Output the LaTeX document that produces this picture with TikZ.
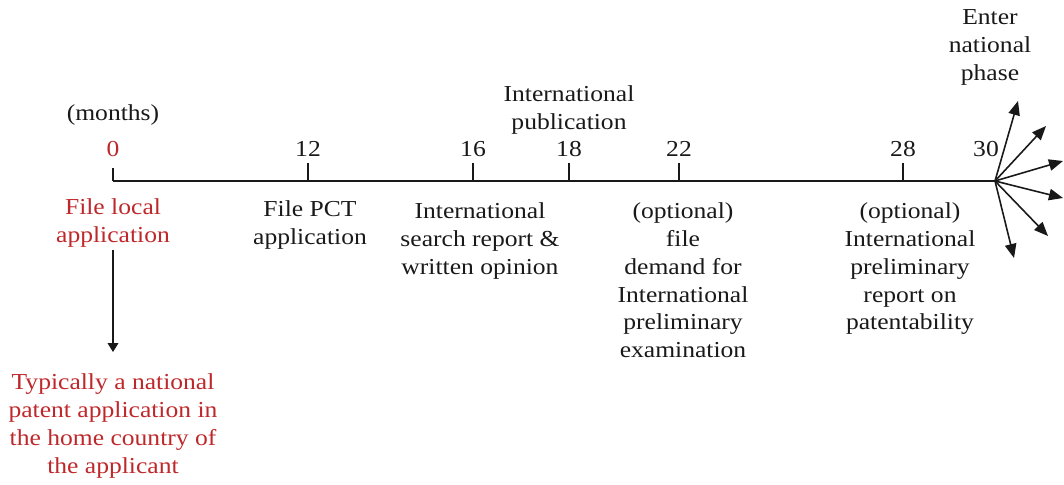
\documentclass[tikz,border=0pt]{standalone}
\usepackage{fontspec}
\setmainfont{Liberation Serif}[FakeStretch=1.12]
\usepackage{xcolor}
\usepackage{tikz}
\usetikzlibrary{arrows.meta, positioning}
\definecolor{pctred}{RGB}{190, 40, 42}
\definecolor{pctdark}{RGB}{25, 25, 25}

\begin{document}
\begin{tikzpicture}[
    x=0.02cm, y=-0.02cm,
    every node/.style = {font=\fontsize{13}{15.9}\selectfont, inner sep=0pt},
    steptext/.style = {align=center, anchor=north, text=pctdark},
    redtext/.style = {align=center, anchor=north, text=pctred},
    month/.style = {anchor=base, text=pctdark},
    axisline/.style = {line width=0.75pt, pctdark},
    tick/.style = {line width=0.75pt, pctdark},
    arr/.style = {-{Triangle[length=5pt, width=6pt]}, line width=0.75pt, pctdark},
    fan/.style = {-{Triangle[length=8pt, width=6.5pt]}, line width=0.9pt, pctdark},
]
\useasboundingbox (0,0) rectangle (1064,484);

% Axis
\coordinate (m0)  at (113,181);
\coordinate (m12) at (308,181);
\coordinate (m16) at (473,181);
\coordinate (m18) at (569,181);
\coordinate (m22) at (679,181);
\coordinate (m28) at (903,181);
\coordinate (m30) at (995,181);
\draw[axisline] (m0) -- (m30);

% Ticks
\draw[tick] (m0)  -- ++(0,-13);
\foreach \m in {m12, m16, m18, m22, m28}
    \draw[tick] (\m) -- ++(0,-18);

% Months
\node[month] (unit) at (113,120) {(months)};
\node[month, text=pctred] (n0) at (113,156) {0};
\node[month] (n12) at (308,156) {12};
\node[month] (n16) at (473,156) {16};
\node[month] (n18) at (569,156) {18};
\node[month] (n22) at (679,156) {22};
\node[month] (n28) at (903,156) {28};
\node[month] (n30) at (986,156) {30};

% Above the axis
\node[steptext] (publ)  at (569,85) {International\\publication};
\node[steptext] (enter) at (990,9) {Enter\\national\\phase};

% Below the axis
\node[redtext]  (local)  at (113,198) {File local\\application};
\node[steptext] (pct)    at (310,200) {File PCT\\application};
\node[steptext] (search) at (480,202) {International\\search report \&\\written opinion};
\node[steptext] (demand) at (683,202) {(optional)\\file\\demand for\\International\\preliminary\\examination};
\node[steptext] (iprp)   at (910,202) {(optional)\\International\\preliminary\\report on\\patentability};
\node[redtext]  (home)   at (113,373) {Typically a national\\patent application in\\the home country of\\the applicant};

% Arrows
\coordinate (homeup) at (113,352);
\draw[arr] (local.south |- 0,250) -- (homeup);

\coordinate (f1) at (1018,101);
\coordinate (f2) at (1046,126);
\coordinate (f3) at (1063,161);
\coordinate (f4) at (1063,198);
\coordinate (f5) at (1048,236);
\coordinate (f6) at (1014,258);
\foreach \f in {f1, f2, f3, f4, f5, f6}
    \draw[fan] (m30) -- (\f);

\end{tikzpicture}
\end{document}
